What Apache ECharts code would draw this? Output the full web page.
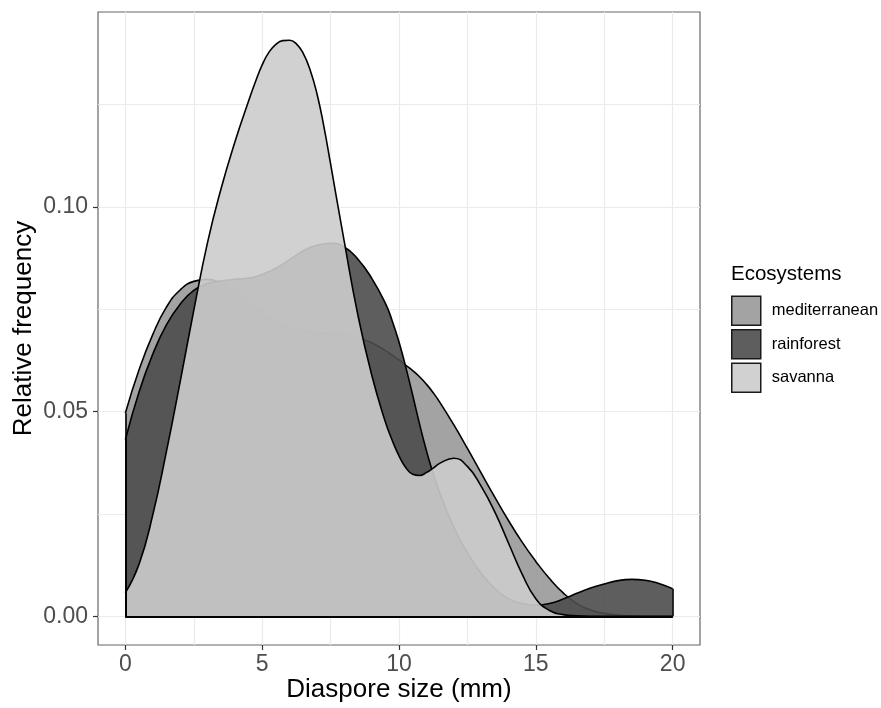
<!DOCTYPE html>
<html>
<head>
<meta charset="utf-8">
<script src="https://cdn.jsdelivr.net/npm/echarts@6/dist/echarts.min.js"></script>
<style>
html, body { margin: 0; padding: 0; background: #fff; }
#chart { width: 881px; height: 708px; }
</style>
</head>
<body>
<div id="chart"></div>
<script>
// diaspore size (mm) where the densities were read (finer around the savanna peak and dip)
const sizes = [0, 0.5, 1, 1.5, 2, 2.5, 3, 3.5, 4, 4.5,
  4.75, 5, 5.25, 5.5, 5.75, 6, 6.25, 6.5, 6.75, 7, 7.25, 7.5,
  8, 8.5, 9, 9.5,
  9.75, 10, 10.25, 10.5, 10.75, 11, 11.25, 11.5,
  12, 12.5, 13, 13.5, 14, 14.5, 15, 15.5, 16, 16.5, 17, 17.5, 18, 18.5, 19, 19.5, 20];

const mediterranean = [0.0496, 0.0602, 0.0688, 0.0755, 0.0797, 0.0818, 0.0823, 0.0814, 0.0796, 0.0770,
  0.0756, 0.0742, 0.0730, 0.0719, 0.0710, 0.0704, 0.0700, 0.0697, 0.0695, 0.0693, 0.0692, 0.0691,
  0.0688, 0.0681, 0.0668, 0.0649,
  0.0638, 0.0626, 0.0613, 0.0600, 0.0585, 0.0567, 0.0546, 0.0522,
  0.0468, 0.0410, 0.0350, 0.0291, 0.0234, 0.0181, 0.0134, 0.0092, 0.0057, 0.0031, 0.0015, 0.0007,
  0.0003, 0.0001, 0, 0, 0];

const rainforest = [0.0431, 0.0548, 0.0640, 0.0712, 0.0762, 0.0796, 0.0812, 0.0819, 0.0823, 0.0826,
  0.0829, 0.0835, 0.0842, 0.0850, 0.0860, 0.0871, 0.0882, 0.0893, 0.0901, 0.0906, 0.0910, 0.0911,
  0.0902, 0.0872, 0.0826, 0.0765,
  0.0722, 0.0670, 0.0608, 0.0540, 0.0470, 0.0405, 0.0348, 0.0300,
  0.0218, 0.0155, 0.0105, 0.0068, 0.0043, 0.0031, 0.0027, 0.0031, 0.0042, 0.0056, 0.0069, 0.0079,
  0.0087, 0.0090, 0.0088, 0.0080, 0.0067];

const savanna = [0.0057, 0.0127, 0.0247, 0.0402, 0.0572, 0.0747, 0.0912, 0.1045, 0.1158, 0.1258,
  0.1305, 0.1347, 0.1378, 0.1397, 0.1406, 0.1407, 0.1398, 0.1375, 0.1335, 0.1277, 0.1198, 0.1105,
  0.0915, 0.0735, 0.0590, 0.0475,
  0.0430, 0.0392, 0.0363, 0.0347, 0.0344, 0.0351, 0.0362, 0.0374,
  0.0386, 0.0366, 0.0318, 0.0255, 0.0179, 0.0103, 0.0043, 0.0014, 0.0004, 0.0001, 0, 0,
  0, 0, 0, 0, 0];

const ecosystems = ['mediterranean', 'rainforest', 'savanna'];
const fills = ['rgba(153,153,153,0.9)', 'rgba(77,77,77,0.9)', 'rgba(204,204,204,0.9)'];

const xMajor = [0, 5, 10, 15, 20];
const xMinor = [2.5, 7.5, 12.5, 17.5];
const yMajor = [0, 0.05, 0.1];
const yMinor = [0.025, 0.075, 0.125];

// side and bottom edges of each density polygon, taken from the first/last values
function edges(values) {
  const first = sizes[0];
  const last = sizes[sizes.length - 1];
  return [
    [{ coord: [first, 0] }, { coord: [first, values[0]] }],
    [{ coord: [last, 0] }, { coord: [last, values[values.length - 1]] }],
    [{ coord: [first, 0] }, { coord: [last, 0] }]
  ];
}

const chart = echarts.init(document.getElementById('chart'));

const gridLine = { show: true, lineStyle: { color: '#ebebeb', width: 1.2 } };

const series = [mediterranean, rainforest, savanna].map((vals, i) => ({
  name: ecosystems[i],
  type: 'line',
  data: sizes.map((x, k) => [x, vals[k]]),
  smooth: 0.5,
  symbol: 'none',
  showSymbol: false,
  z: 2 + i,
  silent: true,
  lineStyle: { color: '#000', width: 1.6 },
  itemStyle: { color: fills[i] },
  areaStyle: { color: fills[i], opacity: 1 },
  emphasis: { disabled: true },
  markLine: {
    silent: true,
    symbol: ['none', 'none'],
    label: { show: false },
    emphasis: { disabled: true },
    lineStyle: { color: '#000', width: 1.6, type: 'solid' },
    data: edges(vals)
  }
}));

chart.setOption({
  animation: false,
  backgroundColor: '#fff',
  title: {
    text: 'Ecosystems',
    left: 731,
    top: 264,
    padding: 0,
    textStyle: { fontFamily: 'Liberation Sans', fontSize: 20.5, fontWeight: 'normal', color: '#000' }
  },
  legend: {
    orient: 'vertical',
    left: 731,
    top: 295.5,
    padding: 0,
    icon: 'rect',
    itemWidth: 29,
    itemHeight: 29,
    itemGap: 3,
    selectedMode: false,
    textStyle: { fontFamily: 'Liberation Sans', fontSize: 16.5, color: '#000', padding: [0, 0, 0, 6] },
    data: ecosystems.map((name, i) => ({
      name: name,
      itemStyle: { color: fills[i], borderColor: '#1a1a1a', borderWidth: 1.5 }
    }))
  },
  grid: {
    left: 98, right: 181, top: 12, bottom: 63,
    outerBoundsMode: 'none',
    containLabel: false,
    show: true, borderColor: '#666', borderWidth: 1.2, backgroundColor: '#fff'
  },
  xAxis: [{
    type: 'value', min: -1, max: 21,
    name: 'Diaspore size (mm)', nameLocation: 'middle', nameGap: 32, nameMoveOverlap: false,
    nameTextStyle: { fontFamily: 'Liberation Sans', fontSize: 26, color: '#000' },
    axisLine: { show: false, onZero: false },
    axisTick: { show: true, length: 5, customValues: xMajor, lineStyle: { color: '#333', width: 1.2 } },
    axisLabel: { customValues: xMajor, margin: 8, fontFamily: 'Liberation Sans', fontSize: 23, color: '#4d4d4d' },
    splitLine: gridLine
  }, {
    type: 'value', min: -1, max: 21, position: 'bottom',
    axisLine: { show: false, onZero: false },
    axisTick: { show: false, customValues: xMinor },
    axisLabel: { show: false },
    splitLine: gridLine
  }],
  yAxis: [{
    type: 'value', min: -0.00702, max: 0.1476,
    name: 'Relative frequency', nameLocation: 'middle', nameGap: 61, nameMoveOverlap: false,
    nameTextStyle: { fontFamily: 'Liberation Sans', fontSize: 26, color: '#000' },
    axisLine: { show: false, onZero: false },
    axisTick: { show: true, length: 5, customValues: yMajor, lineStyle: { color: '#333', width: 1.2 } },
    axisLabel: {
      customValues: yMajor, margin: 10, fontFamily: 'Liberation Sans', fontSize: 23, color: '#4d4d4d',
      formatter: v => v.toFixed(2)
    },
    splitLine: gridLine
  }, {
    type: 'value', min: -0.00702, max: 0.1476, position: 'left',
    axisLine: { show: false, onZero: false },
    axisTick: { show: false, customValues: yMinor },
    axisLabel: { show: false },
    splitLine: gridLine
  }],
  series: series
});
</script>
</body>
</html>
